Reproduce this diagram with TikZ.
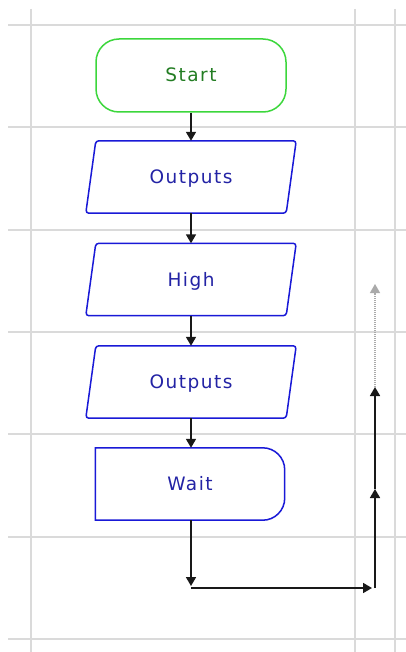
\documentclass[tikz,border=0pt]{standalone}
\usepackage{fontspec}
\newfontfamily\chartfont[LetterSpace=8]{DejaVu Sans}
\usetikzlibrary{arrows.meta}

\definecolor{gridgray}{RGB}{218,218,218}
\definecolor{termgreen}{RGB}{60,215,60}
\definecolor{termtext}{RGB}{35,125,35}
\definecolor{boxblue}{RGB}{25,25,215}
\definecolor{boxtext}{RGB}{35,35,165}
\definecolor{flowblack}{RGB}{25,25,25}
\definecolor{ghost}{RGB}{170,170,170}

\begin{document}
\begin{tikzpicture}[x=1pt,y=-1pt,
  labeltext/.style={font=\chartfont\fontsize{18.5}{21}\selectfont,
    text height=17pt, text depth=4pt},
  gridline/.style={draw=gridgray, line width=1.8pt},
  terminal/.style={labeltext, rectangle, draw=termgreen, text=termtext,
    line width=1.5pt, rounded corners=23pt,
    minimum width=190pt, minimum height=73pt, inner sep=0pt},
  iobox/.style={labeltext, rectangle, text=boxtext,
    minimum width=200pt, minimum height=72pt, inner sep=0pt},
  delaybox/.style={labeltext, rectangle, text=boxtext,
    minimum width=189pt, minimum height=72pt, inner sep=0pt},
  blueline/.style={draw=boxblue, line width=1.5pt},
  flow/.style={draw=flowblack, line width=1.7pt,
    -{Triangle[length=9pt,width=10pt]}},
  ghostflow/.style={draw=ghost, line width=1.3pt, dash pattern=on 1pt off 1pt,
    -{Triangle[length=9pt,width=10pt]}}
]
% page and background grid
\fill[white] (0,0) rectangle (406,652);
\useasboundingbox (0,0) rectangle (406,652);
\foreach \gy in {25,127.3,229.7,332,434.3,536.7,639}
  \draw[gridline] (8,\gy) -- (406,\gy);
\foreach \gx in {31,355,395}
  \draw[gridline] (\gx,9) -- (\gx,652);

% flowchart blocks
\node[terminal] (start) at (191,75.5) {Start};
\node[iobox] (out1) at (191,177) {Outputs};
\node[iobox] (high) at (191,279.5) {High};
\node[iobox] (out2) at (191,382) {Outputs};
\node[delaybox] (wait) at (190,484) {Wait};

% input/output blocks: slanted parallelograms
\foreach \blk in {out1,high,out2}
  \draw[blueline, rounded corners=3pt]
    ([xshift=5pt]\blk.north west) -- ([xshift=5pt]\blk.north east)
    -- ([xshift=-5pt]\blk.south east) -- ([xshift=-5pt]\blk.south west) -- cycle;

% delay outline: square on the left, rounded on the right
\draw[blueline, rounded corners=22pt]
  (wait.north) -- (wait.north east) -- (wait.south east) -- (wait.south)
  [sharp corners] -- (wait.south west) -- (wait.north west) -- cycle;

% loop-back route
\coordinate (d1) at (191,588);
\coordinate (d2) at (375,588);
\coordinate (d3) at (375,489);
\coordinate (d4) at (375,387);
\coordinate (d5) at (375,284);

% connectors
\draw[flow] (start) -- (out1);
\draw[flow] (out1) -- (high);
\draw[flow] (high) -- (out2);
\draw[flow] (out2) -- (wait.north -| out2.south);
\draw[flow, shorten >=2pt] (wait.south -| d1) -- (d1);
\draw[flow, shorten >=3pt] (d1) -- (d2);
\draw[flow] (d2) -- (d3);
\draw[flow] (d3) -- (d4);
\draw[ghostflow] (d4) -- (d5);
\end{tikzpicture}
\end{document}
